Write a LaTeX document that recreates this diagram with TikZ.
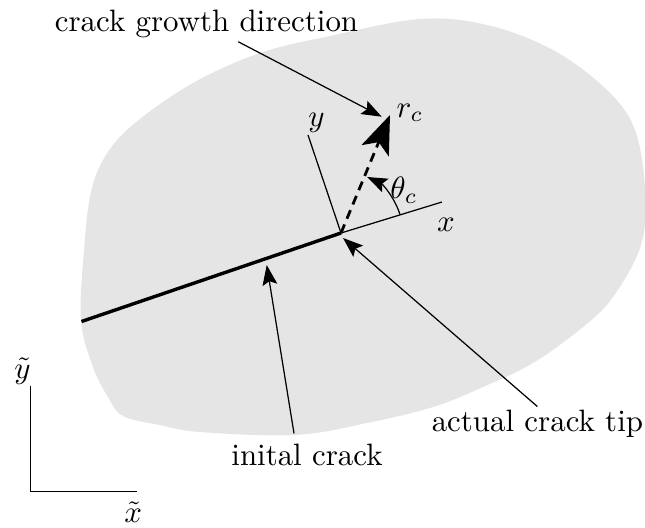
\documentclass[tikz,border=0pt]{standalone}
\usetikzlibrary{arrows.meta,positioning,calc}
\definecolor{blobgray}{HTML}{E5E5E5}
\tikzset{
  pointer/.style={-{Stealth[length=6.5pt,width=4.8pt,inset=1.2pt]}, thin},
  crackline/.style={line width=1.1pt},
  growth/.style={-{Stealth[length=12.5pt,width=9.5pt,inset=3pt]}, line width=0.9pt,
                 dash pattern=on 3pt off 2pt},
  axisline/.style={thin},
  lbl/.style={inner sep=1pt}}

\begin{document}
\begin{tikzpicture}[x=0.3236pt, y=0.3236pt]
  \useasboundingbox (0,0) rectangle (645,527);
  % body
  \fill[blobgray] plot[smooth cycle, tension=.6] coordinates {
    (81,207) (84,277) (91,335) (106,372) (135,404) (193,444) (260,474)
    (330,491) (420,508) (487,502) (553,477) (607,437) (635,397) (645,337)
    (641,282) (613,230) (583,200) (533,164) (483,140) (433,120) (367,104)
    (295,92) (200,95) (160,102) (123,111) (108,130) (93,160)};
  % crack and local frame
  \coordinate (tip) at (341,294);
  \coordinate (crackstart) at (81.5,205.5);
  \coordinate (xend) at (442,325);
  \coordinate (yend) at (308,392);
  \coordinate (rc) at (390,412);
  \draw[crackline] (crackstart) -- (tip);
  \draw[axisline] (tip) -- (xend);
  \draw[axisline] (tip) -- (yend);
  \draw[growth] (tip) -- (rc);
  \draw[pointer] ([shift={(17.5:20pt)}]tip) arc[start angle=17.5, end angle=65, radius=20pt];
  \node[lbl] (xlabel) at (446,302) {$x$};
  \node[lbl] (ylabel) at (316.5,404) {$y$};
  \node[lbl, anchor=west] (rclabel) at (393,414) {$r_c$};
  \node[lbl] (thetalabel) at (404,337) {$\theta_c$};
  % annotations
  \node[lbl, anchor=base] (growthtext) at (206.5,495.3) {crack growth direction};
  \node[lbl, anchor=base] (tiptext) at (537.4,95.3) {actual crack tip};
  \node[lbl, anchor=base] (initext) at (307,61.3) {inital crack};
  \coordinate (growthhead) at (381.7,410.3);
  \coordinate (tiphead) at (343,289);
  \coordinate (inihead) at (266.7,262);
  \draw[pointer] ([xshift=10.3pt]growthtext.south) -- (growthhead);
  \draw[pointer] (tiptext.north) -- (tiphead);
  \draw[pointer] ([xshift=-4.2pt,yshift=2.3pt]initext.north) -- (inihead);
  % global frame
  \coordinate (origin) at (30.7,35.3);
  \coordinate (ytop) at (30.7,141);
  \coordinate (xright) at (136.7,35.3);
  \draw[axisline] (ytop) -- (origin) -- (xright);
  \node[lbl] (ytlabel) at (22.5,156.3) {$\tilde{y}$};
  \node[lbl] (xtlabel) at (133.3,15.3) {$\tilde{x}$};
\end{tikzpicture}
\end{document}
